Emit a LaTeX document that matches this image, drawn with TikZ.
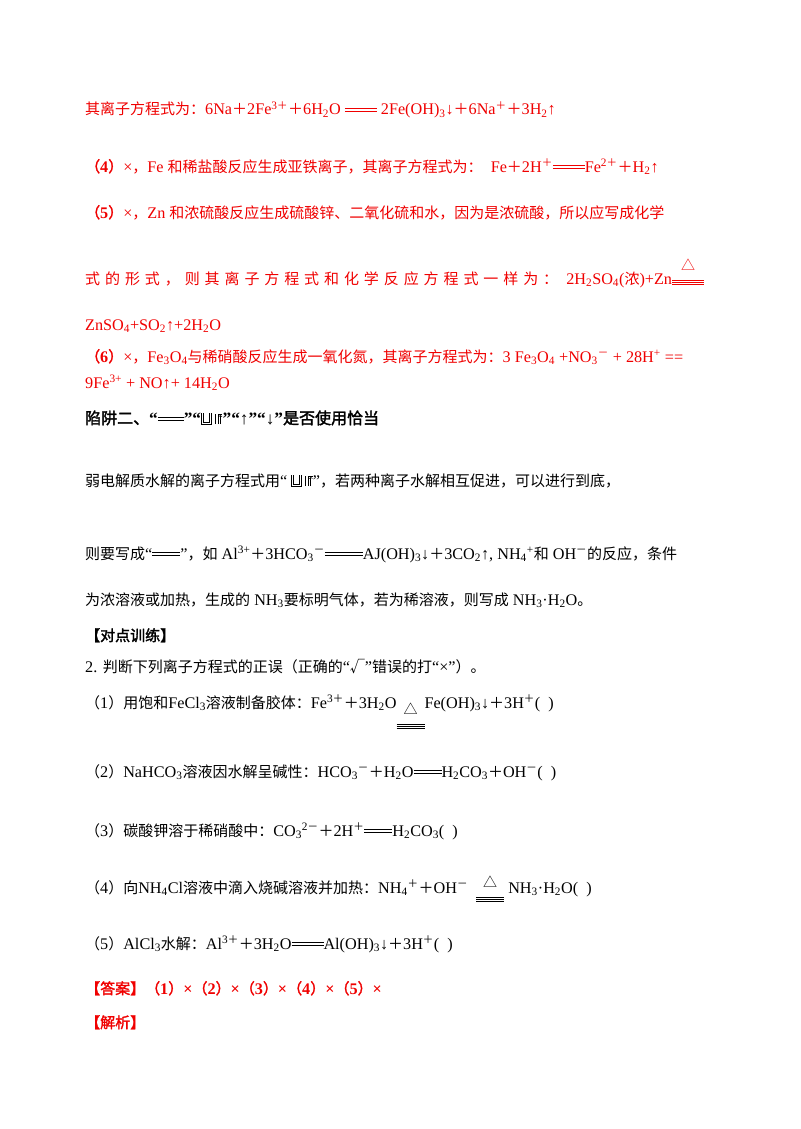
\documentclass[tikz,border=0pt]{standalone}
\usepackage{fontspec}
\setmainfont{Liberation Serif}[Scale=1.08]
\newfontfamily\cjk{Noto Sans CJK SC}[AutoFakeBold=2]
\newXeTeXintercharclass\cjkclass
\count255="4E00 \loop\XeTeXcharclass\count255=\cjkclass\advance\count255 1 \ifnum\count255<"A000 \repeat
\count255="3000 \loop\XeTeXcharclass\count255=\cjkclass\advance\count255 1 \ifnum\count255<"3040 \repeat
\count255="FF00 \loop\XeTeXcharclass\count255=\cjkclass\advance\count255 1 \ifnum\count255<"FFF0 \repeat
\XeTeXcharclass"221A=\cjkclass
\XeTeXcharclass"25B3=\cjkclass
\XeTeXinterchartoks 0 \cjkclass={\cjk}
\XeTeXinterchartoks 4095 \cjkclass={\cjk}
\XeTeXinterchartoks \cjkclass 0={\rmfamily}
\XeTeXinterchartoks \cjkclass 4095={\rmfamily}
\XeTeXinterchartokenstate=1
\definecolor{rd}{RGB}{240,0,0}
\newcommand\dbl[1]{\raisebox{0.22em}{\vbox{\hrule width #1 height 0.7pt\vskip1.6pt\hrule width #1 height 0.7pt}}}
\newcommand\tpl[1]{\vbox{\hrule width #1 height 0.8pt\vskip1.3pt\hrule width #1 height 0.8pt\vskip1.3pt\hrule width #1 height 0.8pt}}
\newcommand\tri[2]{\raisebox{#2}{\vbox{\hbox to #1{\hfil{\fontsize{14}{14}\selectfont △}\hfil}\vskip-3pt\tpl{#1}}}}
\newcommand\sub[1]{\textsubscript{#1}}
\newcommand\sps[1]{\textsuperscript{#1}}
\newcommand\brk{\tikz[baseline=0pt,x=1pt,y=1pt,line width=0.5pt]{\draw (0,11)--(0,0)--(10,0)--(10,11);\draw(2,11)--(2,2)--(8,2)--(8,11);\draw(14,0)--(14,10);\draw(17,0)--(17,10)--(21,10);\draw[->](19,0)--(19,9);}}
\tikzset{ln/.style={anchor=base west,inner sep=0pt,font=\fontsize{15}{18}\selectfont},
red/.style={text=rd}}
\begin{document}
\begin{tikzpicture}[x=1pt,y=-1pt]
\useasboundingbox[fill=white] (0,0) rectangle (800,1129);
\node[ln,red] (l1) at (85,115) {其离子方程式为：6Na＋2Fe\sps{3＋}＋6H\sub{2}O \dbl{32pt} 2Fe(OH)\sub{3}↓＋6Na\sps{＋}＋3H\sub{2}↑};
\node[ln,red] (l2) at (85,172) {\textbf{（4）}×，Fe 和稀盐酸反应生成亚铁离子，其离子方程式为：\ \ Fe＋2H\sps{＋}\dbl{32pt}Fe\sps{2＋}＋H\sub{2}↑};
\node[ln,red] (l3) at (85,218) {\textbf{（5）}×，Zn 和浓硫酸反应生成硫酸锌、二氧化硫和水，因为是浓硫酸，所以应写成化学};
\node[ln,red] (l4) at (85,284) {\makebox[473pt][s]{式\hfil 的\hfil 形\hfil 式\hfil ，\hfil 则\hfil 其\hfil 离\hfil 子\hfil 方\hfil 程\hfil 式\hfil 和\hfil 化\hfil 学\hfil 反\hfil 应\hfil 方\hfil 程\hfil 式\hfil 一\hfil 样\hfil 为\hfil ：}\ \ 2H\sub{2}SO\sub{4}(浓)+Zn\tri{32pt}{-1pt}};
\node[ln,red] (l5) at (85,330) {ZnSO\sub{4}+SO\sub{2}↑+2H\sub{2}O};
\node[ln,red] (l6) at (85,362) {\textbf{（6）}×，Fe\sub{3}O\sub{4}与稀硝酸反应生成一氧化氮，其离子方程式为：3 Fe\sub{3}O\sub{4} +NO\sub{3}\sps{－} + 28H\sps{+} ==};
\node[ln,red] (l7) at (85,388) {9Fe\sps{3+} + NO↑+ 14H\sub{2}O};
\node[ln,font=\fontsize{16}{18}\selectfont\bfseries] (h) at (85,424) {陷阱二、“\dbl{26pt}”“\brk ”“↑”“↓”是否使用恰当};
\node[ln] (p1) at (85,486) {弱电解质水解的离子方程式用“ \brk ”，若两种离子水解相互促进，可以进行到底，};
\node[ln] (p2) at (85,559) {则要写成“\dbl{28pt}”，如 Al\sps{3+}＋3HCO\sub{3}\sps{－}\dbl{38pt}AJ(OH)\sub{3}↓＋3CO\sub{2}↑, NH\sub{4}\sps{+}和 OH\sps{－}的反应，条件};
\node[ln] (p3) at (85,605) {为浓溶液或加热，生成的 NH\sub{3}要标明气体，若为稀溶液，则写成 NH\sub{3}·H\sub{2}O。};
\node[ln,font=\fontsize{15}{18}\selectfont\bfseries] (t) at (85,641) {【对点训练】};
\node[ln] (q) at (85,672) {2. 判断下列离子方程式的正误（正确的“√”错误的打“×”）。};
\node[ln] (q1) at (85,708) {（1）用饱和FeCl\sub{3}溶液制备胶体：Fe\sps{3＋}＋3H\sub{2}O\tri{28pt}{-21pt}Fe(OH)\sub{3}↓＋3H\sps{＋}(\ \ )};
\node[ln] (q2) at (85,777) {（2）NaHCO\sub{3}溶液因水解呈碱性：HCO\sub{3}\sps{－}＋H\sub{2}O\dbl{28pt}H\sub{2}CO\sub{3}＋OH\sps{－}(\ \ )};
\node[ln] (q3) at (85,836) {（3）碳酸钾溶于稀硝酸中：CO\sub{3}\sps{2－}＋2H\sps{＋}\dbl{28pt}H\sub{2}CO\sub{3}(\ \ )};
\node[ln] (q4) at (85,893) {（4）向NH\sub{4}Cl溶液中滴入烧碱溶液并加热：NH\sub{4}\sps{＋}＋OH\sps{－}\ \ \tri{28pt}{-9pt}\ NH\sub{3}·H\sub{2}O(\ \ )};
\node[ln] (q5) at (85,949) {（5）AlCl\sub{3}水解：Al\sps{3＋}＋3H\sub{2}O\dbl{32pt}Al(OH)\sub{3}↓＋3H\sps{＋}(\ \ )};
\node[ln,red,font=\fontsize{15}{18}\selectfont\bfseries] (a) at (85,994) {【答案】（1）×（2）×（3）×（4）×（5）×};
\node[ln,red,font=\fontsize{15}{18}\selectfont\bfseries] (j) at (85,1028) {【解析】};
\end{tikzpicture}
\end{document}
